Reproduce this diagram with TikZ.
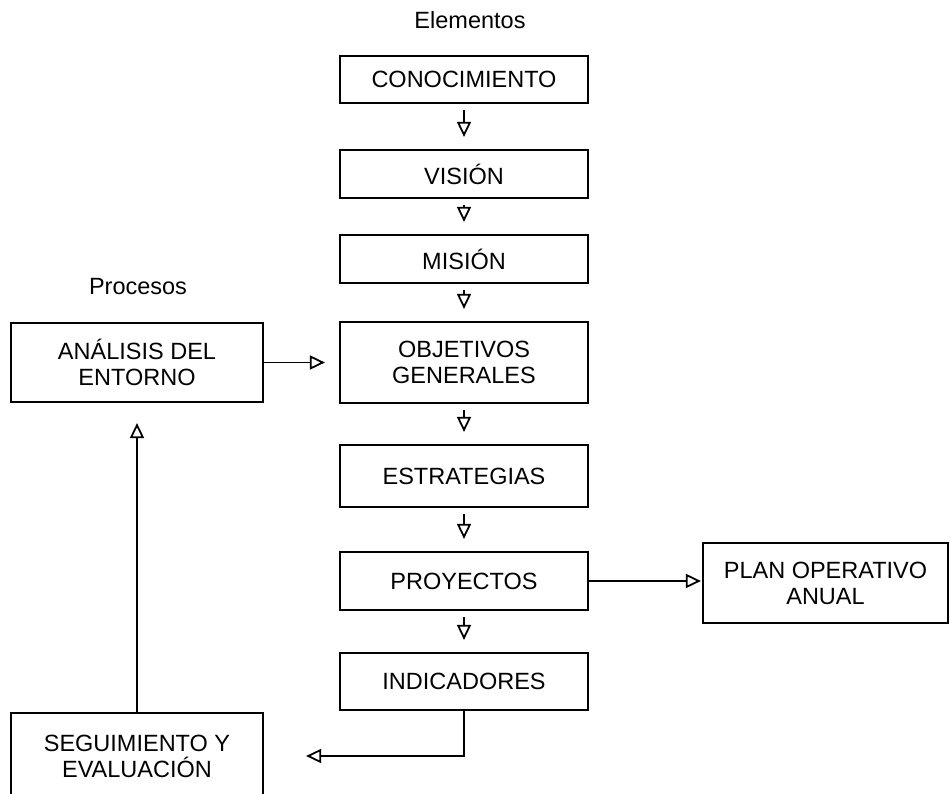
\documentclass[tikz,border=0pt]{standalone}
\usepackage{fontspec}
\setmainfont{Liberation Sans}
\usepackage{tikz}
\usetikzlibrary{arrows.meta}
\colorlet{boxBorder}{black}
\colorlet{boxFill}{white}

\begin{document}
\begin{tikzpicture}[
  x=1pt,
  y=-1pt,
  font=\fontsize{23.5}{26}\selectfont,
  every box/.style={
    draw=boxBorder,
    line width=2.2pt,
    fill=boxFill,
    align=center,
    inner sep=0pt,
  },
  element/.style={
    every box,
    minimum width=248pt,
  },
  process/.style={
    every box,
    minimum width=252pt,
  },
  flow/.style={
    draw=boxBorder,
    line width=1.8pt,
    -{Triangle[open,length=15pt,width=14pt]},
  },
  short flow/.style={
    flow,
    shorten <=6pt,
    shorten >=12pt,
  },
]
\useasboundingbox (0,0) rectangle (951,794);
% headings
\node[inner sep=0pt] (elementos) at (470,20) {Elementos};
\node[inner sep=0pt] (procesos) at (138,287) {Procesos};
% central column
\node[element,minimum height=47pt] (conocimiento) at (464,79.5) {CONOCIMIENTO};
\node[element,minimum height=48pt] (vision) at (464,174) {VISIÓN};
\node[element,minimum height=48pt] (mision) at (464,259) {MISIÓN};
\node[element,minimum height=81pt] (objetivos) at (464,362.5) {OBJETIVOS\\GENERALES};
\node[element,minimum height=62pt] (estrategias) at (464,476) {ESTRATEGIAS};
\node[element,minimum height=58pt] (proyectos) at (464,581) {PROYECTOS};
\node[element,minimum height=57pt] (indicadores) at (464,681.5) {INDICADORES};
% side boxes
\node[process,minimum height=79pt] (analisis) at (137,362.5) {ANÁLISIS DEL\\ENTORNO};
\node[process,minimum height=86pt] (seguimiento) at (137,756) {SEGUIMIENTO Y\\EVALUACIÓN};
\node[every box,minimum width=245pt,minimum height=80pt] (plan) at (825.5,583) {PLAN OPERATIVO\\ANUAL};
% connectors
\foreach \from/\to in {conocimiento/vision,vision/mision,mision/objetivos,
  objetivos/estrategias,estrategias/proyectos,proyectos/indicadores}
  \draw[short flow] (\from) -- (\to);
\draw[flow,shorten >=14pt] (analisis) -- (objetivos);
\draw[flow,shorten >=1pt] (proyectos.east) -- (proyectos.east -| plan.west);
\draw[flow,shorten >=42pt] (indicadores.south) |- (seguimiento.east);
\draw[flow,shorten >=20pt] (seguimiento) -- (analisis);
\end{tikzpicture}
\end{document}
